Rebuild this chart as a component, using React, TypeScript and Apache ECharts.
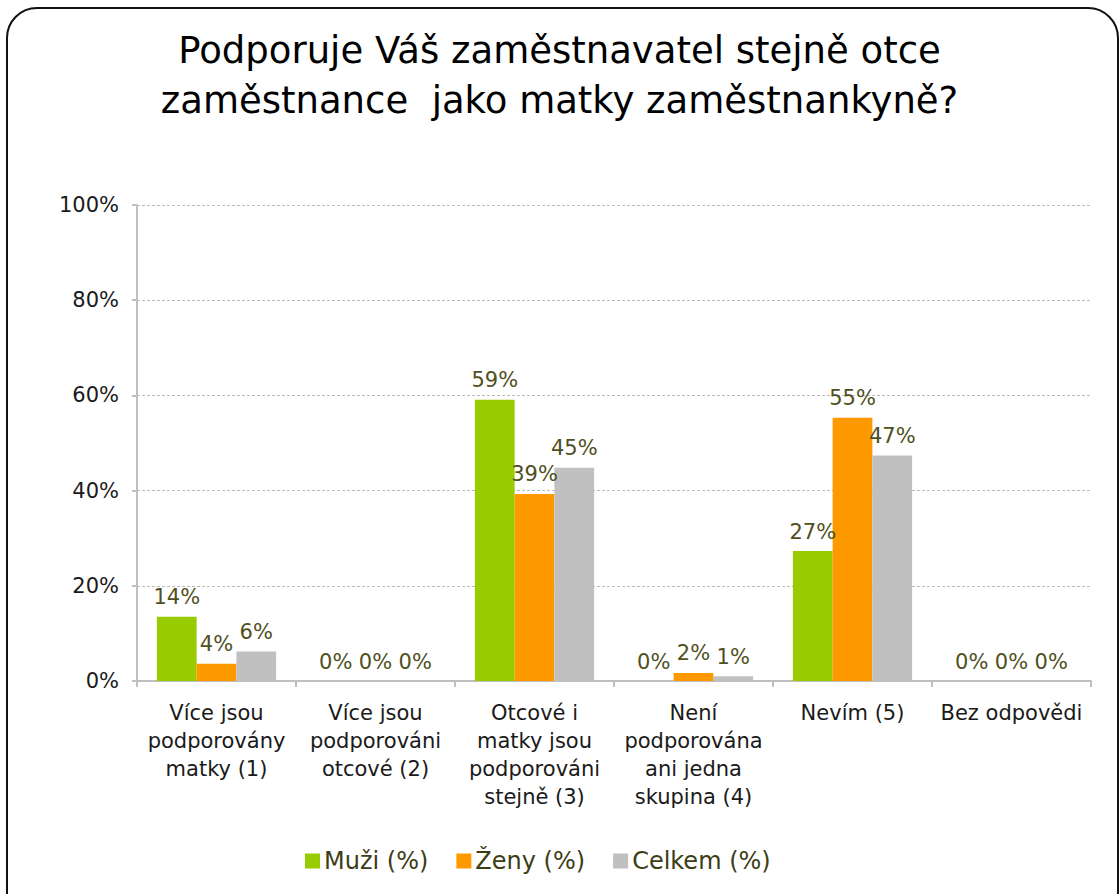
import React, { useEffect, useRef } from "react";
import * as echarts from "echarts";

const TITLE = "Podporuje Váš zaměstnavatel stejně otce\nzaměstnance  jako matky zaměstnankyně?";
const categories = [
  "Více jsou\npodporovány\nmatky (1)",
  "Více jsou\npodporováni\notcové (2)",
  "Otcové i\nmatky jsou\npodporováni\nstejně (3)",
  "Není\npodporována\nani jedna\nskupina (4)",
  "Nevím (5)",
  "Bez odpovědi",
];
const seriesNames = ["Muži (%)", "Ženy (%)", "Celkem (%)"];
const muzi = [13.5, 0, 59.1, 0, 27.3, 0];
const zeny = [3.6, 0, 39.3, 1.7, 55.3, 0];
const celkem = [6.2, 0, 44.8, 1.0, 47.4, 0];
const yTicks = [0, 20, 40, 60, 80, 100];
const colors = ["#99cc00", "#ff9900", "#c0c0c0"];

const FONT = "'DejaVu Sans', Verdana, sans-serif";

export default function App() {
  const ref = useRef<HTMLDivElement>(null);
  useEffect(() => {
    if (!ref.current) return;
    const chart = echarts.init(ref.current, undefined, { renderer: "svg" });
    const values = [muzi, zeny, celkem];
    chart.setOption({
      animation: false,
      backgroundColor: "#ffffff",
      textStyle: { fontFamily: FONT },
      graphic: [
        {
          type: "rect",
          shape: { x: 7, y: 8, width: 1111, height: 950, r: 30 },
          style: { fill: "none", stroke: "#111", lineWidth: 2 },
          z: -1,
        },
        {
          type: "text",
          left: "center",
          top: 25,
          style: {
            text: TITLE,
            font: `37px ${FONT}`,
            fill: "#000",
            textAlign: "center",
            lineHeight: 50,
          },
        },
      ],
      legend: {
        top: 844,
        left: 300,
        itemWidth: 15,
        itemHeight: 15,
        itemGap: 28,
        icon: "rect",
        textStyle: { fontSize: 24, color: "#3d3d14", fontFamily: FONT, padding: [0, 0, 0, -1] },
        data: seriesNames,
      },
      grid: { left: 137, right: 28, top: 205, bottom: 213, containLabel: false },
      xAxis: {
        type: "category",
        data: categories,
        axisLine: { lineStyle: { color: "#bfbfbf", width: 2 } },
        axisTick: { show: true, length: 6, lineStyle: { color: "#bfbfbf", width: 2 } },
        axisLabel: {
          interval: 0,
          margin: 18,
          fontSize: 21,
          lineHeight: 28,
          color: "#1a1a1a",
          fontFamily: FONT,
        },
      },
      yAxis: {
        type: "value",
        min: 0,
        max: 100,
        interval: 20,
        axisLine: { show: true, lineStyle: { color: "#bfbfbf", width: 2 } },
        axisTick: { show: true, length: 5, lineStyle: { color: "#bfbfbf", width: 2 } },
        splitLine: { lineStyle: { color: "#bbbbbb", type: [3, 2], width: 1 } },
        axisLabel: {
          margin: 18,
          fontSize: 21,
          color: "#1a1a1a",
          fontFamily: FONT,
          formatter: (v: number) => (yTicks.includes(v) ? `${v}%` : ""),
        },
      },
      series: seriesNames.map((name, i) => ({
        name,
        type: "bar",
        data: values[i],
        barGap: "0%",
        barCategoryGap: "25%",
        itemStyle: { color: colors[i] },
        label: {
          show: true,
          position: "top",
          distance: 9,
          fontSize: 21,
          color: "#50501e",
          fontFamily: FONT,
          formatter: (p: any) => `${Math.round(p.value)}%`,
        },
      })),
    });
    return () => chart.dispose();
  }, []);
  return (
    <div
      ref={ref}
      style={{ position: "fixed", left: 0, top: 0, width: 1119, height: 894 }}
    />
  );
}
